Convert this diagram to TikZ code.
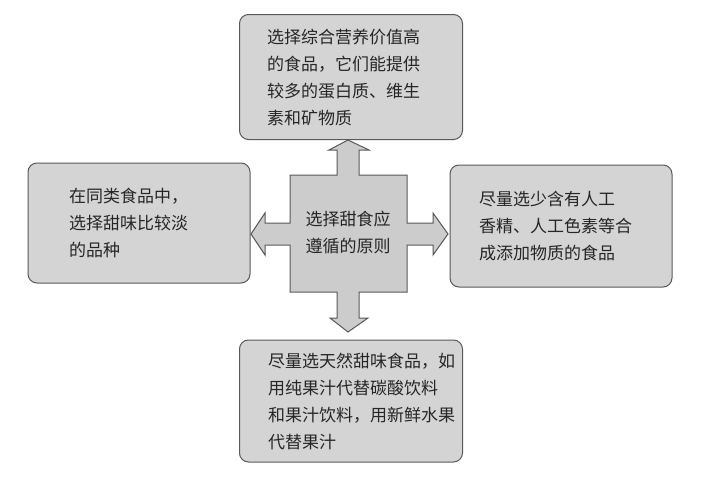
\documentclass[tikz,border=0pt]{standalone}
\usepackage{fontspec}
\setmainfont{Noto Sans CJK SC}
\begin{document}
\begin{tikzpicture}[x=1pt,y=-1pt,
  box/.style={draw=black!65,line width=1pt,fill=black!17,rounded corners=9pt,align=left,inner sep=0pt,
    font=\fontsize{17}{27}\selectfont,text=black!85},
  cross/.style={draw=black!65,line width=1pt,fill=black!20,line join=miter}]
\useasboundingbox (0,0) rectangle (702,482);
\node[box,minimum width=223pt,minimum height=125pt,text width=168pt] (top) at (351,77)
  {选择综合营养价值高\\的食品，它们能提供\\较多的蛋白质、维生\\素和矿物质};
\node[box,minimum width=222pt,minimum height=120pt,text width=140pt] (left) at (139,223)
  {在同类食品中，\\选择甜味比较淡\\的品种};
\node[box,minimum width=222pt,minimum height=122pt,text width=164pt] (right) at (561,226)
  {尽量选少含有人工\\香精、人工色素等合\\成添加物质的食品};
\node[box,minimum width=223pt,minimum height=122pt,text width=166pt] (bottom) at (351,401)
  {尽量选天然甜味食品，如\\用纯果汁代替碳酸饮料\\和果汁饮料，用新鲜水果\\代替果汁};
\draw[cross] (290,175) -- (337,175) -- (337,150) -- (329,150) -- (348,140) -- (369,150) -- (359,150) -- (359,175)
  -- (407,175) -- (407,223) -- (433,223) -- (433,213) -- (448,234) -- (433,255) -- (433,245) -- (407,245)
  -- (407,292) -- (359,292) -- (359,318) -- (368,318) -- (348,332) -- (330,318) -- (337,318) -- (337,292)
  -- (290,292) -- (290,245) -- (265,245) -- (265,255) -- (251,234) -- (265,213) -- (265,223) -- (290,223) -- cycle;
\node[align=center,font=\fontsize{17}{27}\selectfont,text=black!85] (center) at (348,233) {选择甜食应\\遵循的原则};
\end{tikzpicture}
\end{document}
